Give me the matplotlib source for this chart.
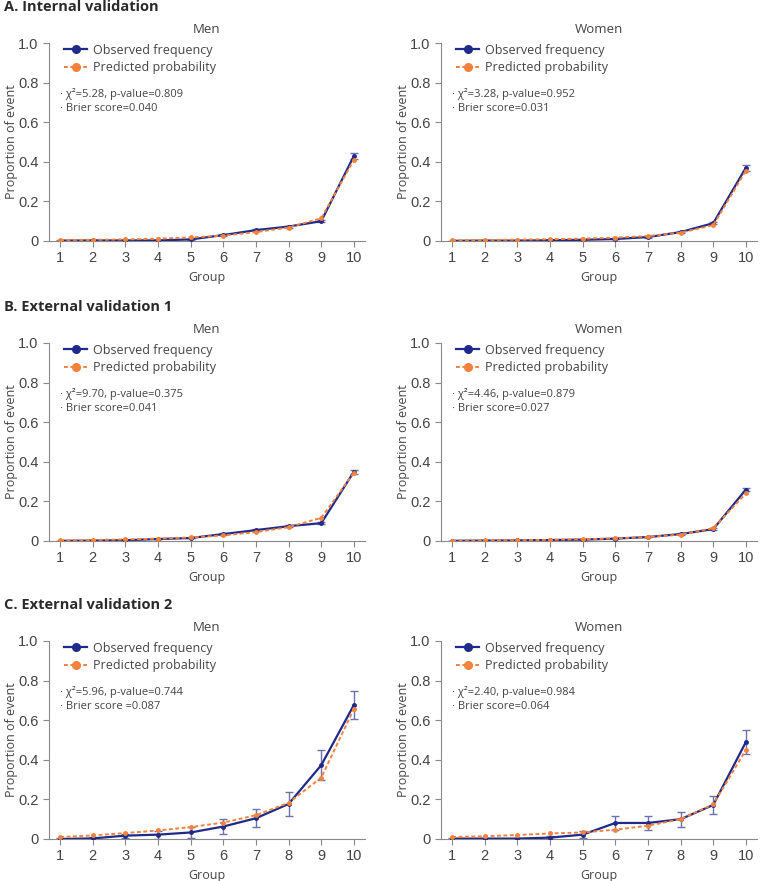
import numpy as np
import matplotlib
matplotlib.use("Agg")
import matplotlib.pyplot as plt

plt.rcParams['font.family'] = ['Open Sans', 'DejaVu Sans']

groups = [1, 2, 3, 4, 5, 6, 7, 8, 9, 10]

# A. Internal validation
a_men_obs = [0.002, 0.003, 0.003, 0.003, 0.008, 0.030, 0.055, 0.073, 0.100, 0.430]
a_men_err = [0.001, 0.001, 0.001, 0.001, 0.002, 0.003, 0.004, 0.005, 0.006, 0.015]
a_men_pred = [0.005, 0.006, 0.008, 0.012, 0.018, 0.027, 0.045, 0.068, 0.115, 0.410]
a_women_obs = [0.001, 0.002, 0.002, 0.004, 0.006, 0.010, 0.020, 0.045, 0.090, 0.370]
a_women_err = [0.001, 0.001, 0.001, 0.001, 0.002, 0.002, 0.003, 0.004, 0.006, 0.015]
a_women_pred = [0.003, 0.005, 0.007, 0.009, 0.012, 0.017, 0.025, 0.042, 0.080, 0.355]

# B. External validation 1
b_men_obs = [0.001, 0.002, 0.004, 0.010, 0.015, 0.035, 0.055, 0.075, 0.090, 0.350]
b_men_err = [0.001, 0.001, 0.001, 0.002, 0.002, 0.003, 0.004, 0.004, 0.005, 0.010]
b_men_pred = [0.003, 0.005, 0.008, 0.012, 0.018, 0.028, 0.045, 0.070, 0.117, 0.345]
b_women_obs = [0.001, 0.002, 0.003, 0.005, 0.007, 0.012, 0.020, 0.035, 0.060, 0.260]
b_women_err = [0.001, 0.001, 0.001, 0.001, 0.001, 0.002, 0.002, 0.003, 0.004, 0.008]
b_women_pred = [0.002, 0.003, 0.004, 0.006, 0.009, 0.013, 0.020, 0.032, 0.065, 0.240]

# C. External validation 2
c_men_obs = [0.000, 0.003, 0.017, 0.022, 0.033, 0.063, 0.105, 0.177, 0.373, 0.677]
c_men_err = [0.003, 0.005, 0.010, 0.020, 0.027, 0.037, 0.045, 0.060, 0.075, 0.070]
c_men_pred = [0.010, 0.018, 0.030, 0.043, 0.060, 0.083, 0.120, 0.183, 0.310, 0.657]
c_women_obs = [0.002, 0.002, 0.002, 0.007, 0.022, 0.081, 0.081, 0.100, 0.172, 0.490]
c_women_err = [0.002, 0.002, 0.002, 0.008, 0.018, 0.036, 0.035, 0.037, 0.045, 0.060]
c_women_pred = [0.010, 0.014, 0.020, 0.028, 0.033, 0.047, 0.067, 0.100, 0.175, 0.450]

section_titles = ["A. Internal validation", "B. External validation 1", "C. External validation 2"]
stats_text = [
    ["· χ²=5.28, p-value=0.809\n· Brier score=0.040", "· χ²=3.28, p-value=0.952\n· Brier score=0.031"],
    ["· χ²=9.70, p-value=0.375\n· Brier score=0.041", "· χ²=4.46, p-value=0.879\n· Brier score=0.027"],
    ["· χ²=5.96, p-value=0.744\n· Brier score =0.087", "· χ²=2.40, p-value=0.984\n· Brier score=0.064"],
]
panels = [
    [(a_men_obs, a_men_err, a_men_pred), (a_women_obs, a_women_err, a_women_pred)],
    [(b_men_obs, b_men_err, b_men_pred), (b_women_obs, b_women_err, b_women_pred)],
    [(c_men_obs, c_men_err, c_men_pred), (c_women_obs, c_women_err, c_women_pred)],
]

navy = '#1f2a8a'
errc = '#6a72b0'
orange = '#f4823c'
grey = '#444444'
axc = '#888888'

fig = plt.figure(figsize=(7.7, 8.81), dpi=100)
W, H = 770.0, 881.0
lefts = [49, 441]
width = 316
tops = [43, 343, 641]
height = 198

for r in range(3):
    fig.text(4 / W, 1 - (tops[r] - 36) / H, section_titles[r], fontsize=10.5, fontweight='bold',
             color='#2a2a2a', va='center', ha='left')
    for c in range(2):
        obs, err, pred = panels[r][c]
        ax = fig.add_axes([lefts[c] / W, 1 - (tops[r] + height) / H, width / W, height / H])
        ax.errorbar(groups, obs, yerr=err, fmt='none', ecolor=errc, elinewidth=1.0,
                    capsize=3, capthick=1.0, zorder=2)
        ax.plot(groups, obs, color=navy, linewidth=1.6, marker='o', markersize=2.5,
                label='Observed frequency', zorder=3)
        ax.plot(groups, pred, color=orange, linewidth=1.4, linestyle=(0, (2, 1.3)),
                marker='o', markersize=2.5, label='Predicted probability', zorder=4)
        ax.set_xlim(0.66, 10.34)
        ax.set_ylim(0, 1.0)
        ax.set_xticks(groups)
        ax.set_xticklabels([str(g) for g in groups], family=['Liberation Sans', 'DejaVu Sans'],
                           fontsize=10.5)
        ax.set_yticks([0, 0.2, 0.4, 0.6, 0.8, 1.0])
        ax.set_yticklabels(['0', '0.2', '0.4', '0.6', '0.8', '1.0'],
                           family=['Liberation Sans', 'DejaVu Sans'], fontsize=10.5)
        for s in ['top', 'right']:
            ax.spines[s].set_visible(False)
        for s in ['left', 'bottom']:
            ax.spines[s].set_color(axc)
            ax.spines[s].set_linewidth(0.8)
        ax.tick_params(colors=axc, labelcolor=grey, length=4, width=0.8)
        ax.set_title('Men' if c == 0 else 'Women', fontsize=9.5, color=grey, pad=7)
        ax.set_xlabel('Group', fontsize=9, color=grey, va='center')
        ax.xaxis.set_label_coords(0.5, -36 / height)
        ax.set_ylabel('Proportion of event', fontsize=9, color=grey, va='center')
        ax.yaxis.set_label_coords(-37 / width, 0.5)
        leg = ax.legend(loc='upper left', bbox_to_anchor=(0.025, 1.035), frameon=False,
                        fontsize=9, handlelength=1.8, labelspacing=0.38, markerscale=2.2,
                        handletextpad=0.5, borderaxespad=0.2)
        for t in leg.get_texts():
            t.set_color(grey)
        ax.text(0.035, 0.775, stats_text[r][c], transform=ax.transAxes, fontsize=8,
                color=grey, va='top', ha='left', linespacing=1.45)

fig.savefig('out.png', dpi=100)
